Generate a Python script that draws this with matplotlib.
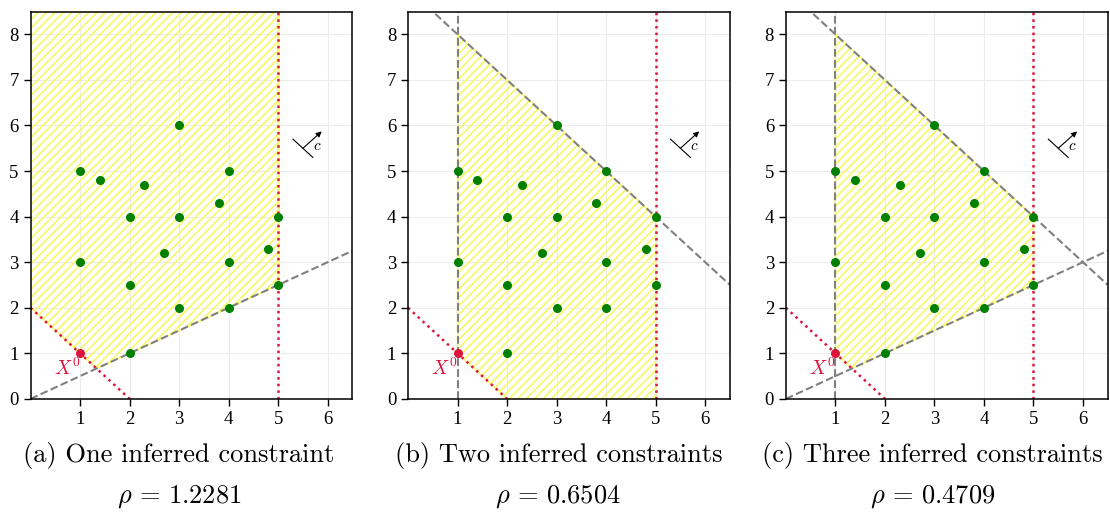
import numpy as np
import matplotlib
matplotlib.use('Agg')
import matplotlib.pyplot as plt
from matplotlib.patches import Polygon

plt.rcParams['mathtext.fontset'] = 'cm'

# integer / fractional points of the problem
px = [1, 1.4, 2.3, 3, 4, 2, 3, 3.8, 5, 1, 2.7, 4, 4.8, 2, 5, 3, 4, 2]
py = [5, 4.8, 4.7, 6, 5, 4, 4, 4.3, 4, 3, 3.2, 3, 3.3, 2.5, 2.5, 2, 2, 1]
x0 = (1, 1)

# constraints a*x + b*y <= c
orig_cons = [(-1, -1, -2), (1, 0, 5)]
inf_cons = {'half': (0.5, -1, 0), 'left': (-1, 0, -1), 'top': (1, 1, 9)}
panel_inferred = [['half'], ['left', 'top'], ['half', 'left', 'top']]

captions = ['(a) One inferred constraint', '(b) Two inferred constraints',
            '(c) Three inferred constraints']
rho = [1.2281, 0.6504, 0.4709]

xmax, ymax = 6.5, 8.5
c_dir = (1, 1)


def clip(poly, a, b, c):
    out = []
    n = len(poly)
    for i in range(n):
        p, q = poly[i], poly[(i + 1) % n]
        fp = a * p[0] + b * p[1] - c
        fq = a * q[0] + b * q[1] - c
        if fp <= 0:
            out.append(p)
        if fp * fq < 0:
            t = fp / (fp - fq)
            out.append((p[0] + t * (q[0] - p[0]), p[1] + t * (q[1] - p[1])))
    return out


def draw_line(ax, a, b, c, **kw):
    if b == 0:
        ax.axvline(c / a, **kw)
    else:
        xs = np.array([0, xmax])
        ax.plot(xs, (c - a * xs) / b, **kw)


def hatch(ax, patch, step=0.17, color='#f9f965', lw=1.2):
    # 45 degree stripes (in screen space) clipped to the patch
    slope = (0.29 * 1110 / xmax) / (0.752 * 515 / ymax)
    for off in np.arange(-ymax / slope, xmax, step):
        ln, = ax.plot([off, off + ymax / slope + 1], [0, slope * (ymax / slope + 1)],
                      color=color, lw=lw, zorder=1)
        ln.set_clip_path(patch)


fig = plt.figure(figsize=(11.1, 5.15), dpi=100)
lefts = [0.0275, 0.3676, 0.708]
cap_x = [0.161, 0.503, 0.840]
for k in range(3):
    ax = fig.add_axes([lefts[k], 0.2255, 0.29, 0.752])
    cons = orig_cons + [inf_cons[n] for n in panel_inferred[k]]

    region = [(0, 0), (xmax, 0), (xmax, ymax), (0, ymax)]
    for a, b, c in cons:
        region = clip(region, a, b, c)
    feas = Polygon(region, closed=True, facecolor='none',
                   edgecolor='#f9f965', lw=1, zorder=1)
    ax.add_patch(feas)
    hatch(ax, feas)

    for a, b, c in orig_cons:
        draw_line(ax, a, b, c, color='crimson', ls=':', lw=1.8, zorder=2)
    for n in panel_inferred[k]:
        a, b, c = inf_cons[n]
        draw_line(ax, a, b, c, color='gray', ls='--', lw=1.5, zorder=2)

    ax.scatter(px, py, s=30, color='green', zorder=4)
    ax.scatter([x0[0]], [x0[1]], s=30, color='crimson', zorder=4)
    ax.text(0.74, 0.68, r'$X^0$', color='crimson', fontsize=14,
            ha='center', va='center')

    # objective direction
    ax.plot([5.3, 5.7], [5.7, 5.3], color='black', lw=0.8)
    ax.annotate('', xy=(5.5 + 0.38 * c_dir[0], 5.5 + 0.37 * c_dir[1]),
                xytext=(5.5, 5.5),
                arrowprops=dict(arrowstyle='-|>', color='black', lw=0.8,
                                mutation_scale=8, shrinkA=0, shrinkB=0))
    ax.text(5.79, 5.56, r'$c$', fontsize=11, ha='center', va='center')

    ax.set_xlim(0, xmax)
    ax.set_ylim(0, ymax)
    ax.set_xticks(range(1, 7))
    ax.set_yticks(range(0, 9))
    ax.grid(color='#ececec', lw=0.8, zorder=0)
    ax.set_axisbelow(True)
    ax.tick_params(direction='out', length=5, width=1, labelsize=13.5)
    for lab in ax.get_xticklabels() + ax.get_yticklabels():
        lab.set_family('Liberation Serif')
    for s in ax.spines.values():
        s.set_linewidth(1.1)

    fig.text(cap_x[k], 0.1165, captions[k], ha='center', va='center',
             fontsize=19, family='cmr10')
    fig.text(cap_x[k], 0.035, r'$\rho\,=\,%.4f$' % rho[k], ha='center',
             va='center', fontsize=19)

fig.savefig('out.png', dpi=100)
